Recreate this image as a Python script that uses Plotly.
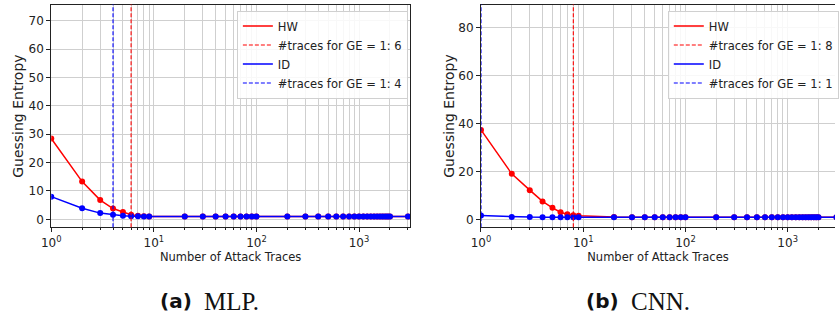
import plotly.graph_objects as go

# ---------------- data ----------------
traces_x = [1, 2, 3, 4, 5, 6, 7, 8, 9,
            20, 30, 40, 50, 60, 70, 80, 90, 100,
            200, 300, 400, 500, 600, 700, 800, 900, 1000,
            1100, 1200, 1300, 1400, 1500, 1600, 1700, 1800, 1900, 2000,
            3000]

mlp_hw = [28.5, 13.3, 6.8, 3.8, 2.6, 1.6, 1.3, 1.1, 1.0,
          1.0, 1.0, 1.0, 1.0, 1.0, 1.0, 1.0, 1.0, 1.0,
          1.0, 1.0, 1.0, 1.0, 1.0, 1.0, 1.0, 1.0, 1.0,
          1.0, 1.0, 1.0, 1.0, 1.0, 1.0, 1.0, 1.0, 1.0, 1.0,
          1.0]
mlp_id = [8.0, 3.9, 2.2, 1.6, 1.3, 1.1, 1.05, 1.0, 1.0,
          1.0, 1.0, 1.0, 1.0, 1.0, 1.0, 1.0, 1.0, 1.0,
          1.0, 1.0, 1.0, 1.0, 1.0, 1.0, 1.0, 1.0, 1.0,
          1.0, 1.0, 1.0, 1.0, 1.0, 1.0, 1.0, 1.0, 1.0, 1.0,
          1.0]
cnn_hw = [37.4, 19.1, 12.3, 7.6, 4.9, 3.1, 2.2, 1.8, 1.6,
          1.1, 1.0, 1.0, 1.0, 1.0, 1.0, 1.0, 1.0, 1.0,
          1.0, 1.0, 1.0, 1.0, 1.0, 1.0, 1.0, 1.0, 1.0,
          1.0, 1.0, 1.0, 1.0, 1.0, 1.0, 1.0, 1.0, 1.0, 1.0,
          1.0]
cnn_id = [1.7, 1.1, 1.05, 1.0, 1.0, 1.0, 1.0, 1.0, 1.0,
          1.0, 1.0, 1.0, 1.0, 1.0, 1.0, 1.0, 1.0, 1.0,
          1.0, 1.0, 1.0, 1.0, 1.0, 1.0, 1.0, 1.0, 1.0,
          1.0, 1.0, 1.0, 1.0, 1.0, 1.0, 1.0, 1.0, 1.0, 1.0,
          1.0]

mlp_ge1_hw, mlp_ge1_id = 6, 4
cnn_ge1_hw, cnn_ge1_id = 8, 1

major_x = [1, 10, 100, 1000]
major_x_text = ["10<sup>0</sup>", "10<sup>1</sup>", "10<sup>2</sup>", "10<sup>3</sup>"]
minor_x = [2, 3, 4, 5, 6, 7, 8, 9, 20, 30, 40, 50, 60, 70, 80, 90,
           200, 300, 400, 500, 600, 700, 800, 900, 2000, 3000]
mlp_yticks = [0, 10, 20, 30, 40, 50, 60, 70]
cnn_yticks = [0, 20, 40, 60, 80]

# ---------------- figure ----------------
W, H = 839, 323
FONT = "DejaVu Sans"
RED, BLUE = "#ff0000", "#0000ff"
GRID = "#cfcfcf"

fig = go.Figure()

panels = [
    dict(xa="x", ya="y", leg="legend", hw=mlp_hw, id=mlp_id, g_hw=mlp_ge1_hw, g_id=mlp_ge1_id),
    dict(xa="x2", ya="y2", leg="legend2", hw=cnn_hw, id=cnn_id, g_hw=cnn_ge1_hw, g_id=cnn_ge1_id),
]

for p in panels:
    for vals, nm, col, rank in [(p["hw"], "HW", RED, 1), (p["id"], "ID", BLUE, 3)]:
        fig.add_trace(go.Scatter(x=traces_x, y=vals, name=nm, mode="lines+markers",
                                 line=dict(color=col, width=1.5), marker=dict(size=6, color=col),
                                 xaxis=p["xa"], yaxis=p["ya"], showlegend=False))
        # legend-only entry (line sample without marker)
        fig.add_trace(go.Scatter(x=[None], y=[None], name=nm, mode="lines",
                                 line=dict(color=col, width=1.5),
                                 xaxis=p["xa"], yaxis=p["ya"], legend=p["leg"], legendrank=rank))
    fig.add_shape(type="line", xref=p["xa"], yref=p["ya"] + " domain",
                  x0=p["g_hw"], x1=p["g_hw"], y0=0, y1=1,
                  line=dict(color=RED, width=1.1, dash="4px,2px"),
                  showlegend=True, name=f"#traces for GE = 1: {p['g_hw']}",
                  legend=p["leg"], legendrank=2)
    fig.add_shape(type="line", xref=p["xa"], yref=p["ya"] + " domain",
                  x0=p["g_id"], x1=p["g_id"], y0=0, y1=1,
                  line=dict(color=BLUE, width=1.1, dash="4px,2px"),
                  showlegend=True, name=f"#traces for GE = 1: {p['g_id']}",
                  legend=p["leg"], legendrank=4)

ydom = [1 - 227.3 / H, 1 - 4.5 / H]

def xaxis(dom, rng, anchor, mirror=True):
    return dict(type="log", domain=dom, range=rng, anchor=anchor, automargin=False,
                tickmode="array", tickvals=major_x, ticktext=major_x_text,
                ticks="outside", ticklen=4, tickcolor="#222",
                showgrid=True, gridcolor=GRID, gridwidth=1,
                showline=True, linecolor="#222", linewidth=1, mirror=mirror,
                zeroline=False,
                tickfont=dict(family=FONT, size=12, color="#222"),
                title=dict(text="Number of Attack Traces", standoff=4,
                           font=dict(family=FONT, size=11.5, color="#222")),
                minor=dict(tickmode="array", tickvals=minor_x, ticks="outside", ticklen=2,
                           tickcolor="#222", showgrid=True, gridcolor=GRID, gridwidth=1))

def yaxis(rng, ticks, anchor, mirror=True):
    return dict(domain=ydom, range=rng, anchor=anchor, automargin=False,
                tickmode="array", tickvals=ticks,
                ticks="outside", ticklen=4, tickcolor="#222",
                showgrid=True, gridcolor=GRID, gridwidth=1,
                showline=True, linecolor="#222", linewidth=1, mirror=mirror,
                zeroline=False,
                tickfont=dict(family=FONT, size=12, color="#222"))

legend_style = dict(bgcolor="rgba(255,255,255,0.85)", bordercolor="#d0d0d0", borderwidth=1,
                    font=dict(family=FONT, size=11.5, color="#222"),
                    xanchor="left", yanchor="top", traceorder="normal")

fig.update_layout(
    width=W, height=H, margin=dict(l=0, r=0, t=0, b=0),
    paper_bgcolor="white", plot_bgcolor="white",
    xaxis=xaxis([51.5 / W, 412 / W], [0, 3.497], "y"),
    yaxis=yaxis([-2.8, 75.7], mlp_yticks, "x"),
    xaxis2=xaxis([483.3 / W, 1.0], [0, 3.463], "y2"),
    yaxis2=yaxis([-3.2, 89.7], cnn_yticks, "x2", mirror=False),
    legend=dict(x=238 / W, y=1 - 10.5 / H, **legend_style),
    legend2=dict(x=671 / W, y=1 - 10.5 / H, **legend_style),
)

# y-axis titles
ymid = (ydom[0] + ydom[1]) / 2
for xt in [18, 451]:
    fig.add_annotation(xref="paper", yref="paper", x=xt / W, y=ymid, textangle=-90,
                       xanchor="center", yanchor="middle", showarrow=False,
                       text="Guessing Entropy",
                       font=dict(family=FONT, size=14, color="#222"))

# captions
cap_y = 1 - 301 / H
for bold, rest, xb in [("(a)", "MLP.", 195), ("(b)", "CNN.", 624)]:
    fig.add_annotation(xref="paper", yref="paper", x=xb / W, y=cap_y, xanchor="right",
                       yanchor="middle", showarrow=False, text=f"<b>{bold}</b>",
                       font=dict(family="DejaVu Sans", size=20, color="#111"))
    fig.add_annotation(xref="paper", yref="paper", x=(xb + 8) / W, y=cap_y, xanchor="left",
                       yanchor="middle", showarrow=False, text=rest,
                       font=dict(family="Liberation Serif", size=25, color="#111"))

fig.write_html("out.html")
